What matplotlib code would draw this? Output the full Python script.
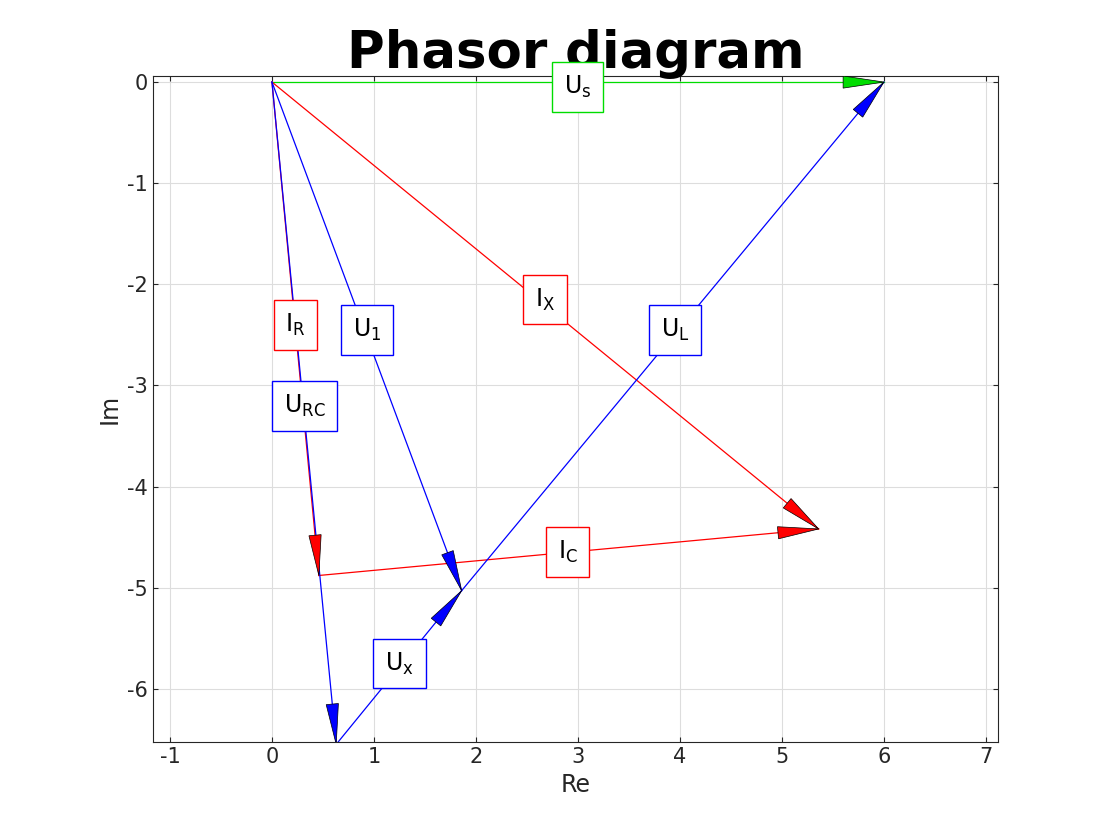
import numpy as np
import matplotlib.pyplot as plt

plt.rcParams["axes.unicode_minus"] = False

# phasor start/end points (Re, Im)
names = ["Us", "Ix", "IR", "IC", "U1", "Ux", "UL", "URC"]
starts = [(0, 0), (0, 0), (0, 0), (0.46, -4.88), (0, 0), (0.63, -6.55), (1.86, -5.03), (0, 0)]
ends = [(6, 0), (5.36, -4.42), (0.46, -4.88), (5.36, -4.42), (1.86, -5.03), (1.86, -5.03), (6, 0), (0.63, -6.55)]
colors = ["#00dd00", "red", "red", "red", "blue", "blue", "blue", "blue"]

labels = [r"U$_{\mathrm{s}}$", r"I$_{\mathrm{X}}$", r"I$_{\mathrm{R}}$", r"I$_{\mathrm{C}}$",
          r"U$_{\mathrm{1}}$", r"U$_{\mathrm{x}}$", r"U$_{\mathrm{L}}$", r"U$_{\mathrm{RC}}$"]
label_pos = [(3.0, -0.05), (2.68, -2.15), (0.23, -2.4), (2.9, -4.65),
             (0.93, -2.45), (1.25, -5.75), (3.95, -2.45), (0.32, -3.2)]

fig = plt.figure(figsize=(11.14, 8.35), dpi=100)
ax = fig.add_axes([0.137, 0.111, 0.759, 0.798])

head = 0.4
for (x0, y0), (x1, y1), c in zip(starts, ends, colors):
    ax.plot([x0, x1], [y0, y1], color=c, lw=0.9, zorder=2)
    d = np.hypot(x1 - x0, y1 - y0)
    ux, uy = (x1 - x0) / d, (y1 - y0) / d
    ax.arrow(x1 - head * ux, y1 - head * uy, head * ux, head * uy, length_includes_head=True,
             head_width=0.12, head_length=head, fc=c, ec="black", lw=0.5, zorder=3)

for lab, (x, y), c in zip(labels, label_pos, colors):
    ax.text(x, y, lab, fontsize=17, ha="center", va="center", zorder=4,
            bbox=dict(boxstyle="square,pad=0.5", fc="white", ec=c, lw=1))

ax.set_xlim(-1.17, 7.12)
ax.set_ylim(-6.53, 0.06)
ax.set_xticks(range(-1, 8))
ax.set_yticks(range(-6, 1))
ax.grid(True, color="#dddddd", lw=0.8)
ax.tick_params(direction="in", top=True, right=True, labelsize=15, colors="#262626")
for s in ax.spines.values():
    s.set_color("#262626")
ax.set_xlabel("Re", fontsize=17, color="#262626")
ax.set_ylabel("Im", fontsize=17, color="#262626")
ax.set_title("Phasor diagram", fontsize=37, fontweight="bold", pad=6)

fig.savefig("out.png", dpi=100)
